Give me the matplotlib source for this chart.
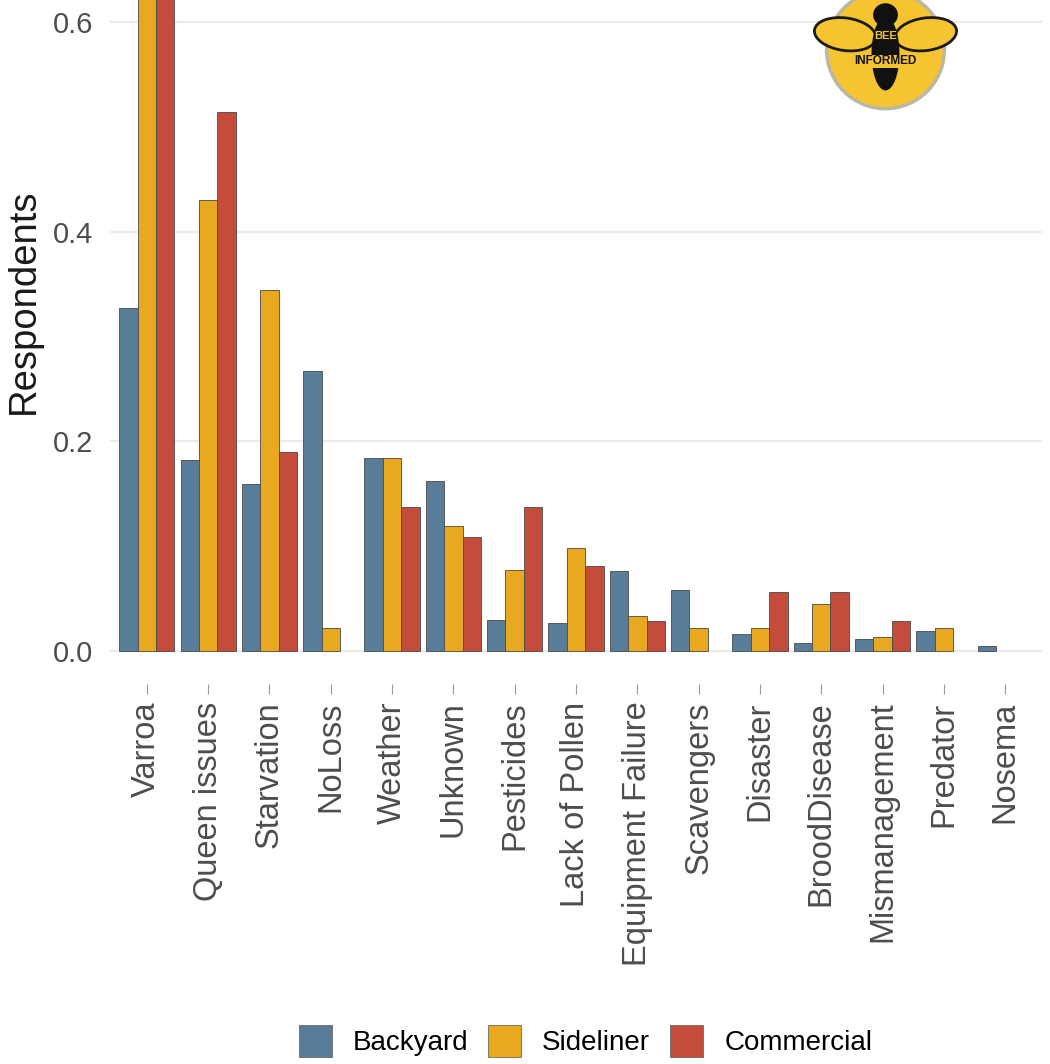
import matplotlib
matplotlib.use("Agg")
import matplotlib.pyplot as plt
import numpy as np
from matplotlib.patches import Patch, Circle, Ellipse

plt.rcParams['font.family'] = ['Liberation Sans', 'DejaVu Sans']

categories = ["Varroa", "Queen issues", "Starvation", "NoLoss", "Weather", "Unknown",
              "Pesticides", "Lack of Pollen", "Equipment Failure", "Scavengers",
              "Disaster", "BroodDisease", "Mismanagement", "Predator", "Nosema"]
series = ["Backyard", "Sideliner", "Commercial"]
backyard   = [0.327, 0.182, 0.159, 0.267, 0.184, 0.162, 0.030, 0.027, 0.076, 0.058, 0.016, 0.008, 0.011, 0.019, 0.005]
sideliner  = [0.700, 0.430, 0.344, 0.022, 0.184, 0.119, 0.077, 0.098, 0.033, 0.022, 0.022, 0.045, 0.013, 0.022, 0.0]
commercial = [0.720, 0.514, 0.190, 0.0, 0.137, 0.109, 0.137, 0.081, 0.029, 0.0, 0.056, 0.056, 0.029, 0.0, 0.0]
yticks = [0.0, 0.2, 0.4, 0.6]
ytick_labels = ["0.0", "0.2", "0.4", "0.6"]
colors = ["#587D98", "#E8A820", "#C34C3B"]

W, H = 1050, 1064
fig = plt.figure(figsize=(W/100, H/100), dpi=100)
ax = fig.add_axes([110/W, 1-683.5/H, (1042-110)/W, 683.5/H])

x = np.arange(len(categories))
bw = 0.3
vals = [backyard, sideliner, commercial]
for i, (v, c) in enumerate(zip(vals, colors)):
    arr = np.array(v)
    mask = arr > 0
    ax.bar(x[mask] + (i-1)*bw, arr[mask], width=bw, color=c, edgecolor="#4a4a4a",
           linewidth=0.6, zorder=3)

ax.set_xlim(-0.6, len(categories)-1+0.6)
ax.set_ylim(-0.031, 0.621)
for s in ax.spines.values():
    s.set_visible(False)
for yv in yticks:
    ax.axhline(yv, color="#EBEBEB", linewidth=1.6, zorder=1)
ax.set_yticks(yticks)
ax.set_yticklabels(ytick_labels)
ax.set_xticks(x)
ax.set_xticklabels(categories, rotation=90, va="top", ha="center")
ax.tick_params(axis="y", length=0, pad=12, labelsize=21, labelcolor="#4D4D4D")
ax.tick_params(axis="x", length=7, width=0.8, color="#9a9a9a", pad=6, labelsize=23.5,
               labelcolor="#4D4D4D", direction="out")

fig.text(24/W, 1-301/H, "Respondents", rotation=90, ha="center", va="center",
         fontsize=27.5, color="#1a1a1a")

handles = [Patch(facecolor=c, edgecolor="#6a6a6a", linewidth=0.6) for c in colors]
fig.legend(handles, series, loc="center", bbox_to_anchor=(585.5/W, 1-1041/H), ncol=3,
           frameon=False, fontsize=20, handlelength=1.19, handleheight=1.37,
           handletextpad=0.75, columnspacing=0.72)

# logo
lax = fig.add_axes([808/W, 1-135/H, 155/W, 155/H])
lax.set_xlim(-1, 1); lax.set_ylim(-1, 1); lax.set_aspect("equal"); lax.axis("off")
lax.add_patch(Circle((0, 0.1), 0.76, facecolor="#F6C430", edgecolor="#BDB6A0", linewidth=2.5))
lax.add_patch(Ellipse((-0.52, 0.3), 0.8, 0.42, angle=-8, facecolor="#F6C430", edgecolor="#1a1a1a", linewidth=2))
lax.add_patch(Ellipse((0.52, 0.3), 0.8, 0.42, angle=8, facecolor="#F6C430", edgecolor="#1a1a1a", linewidth=2))
lax.add_patch(Ellipse((0, 0.55), 0.32, 0.3, facecolor="#111111"))
lax.add_patch(Ellipse((0, 0.05), 0.36, 0.95, facecolor="#111111"))
lax.text(0, 0.28, "BEE", ha="center", va="center", fontsize=8, color="#F6C430", fontweight="bold")
lax.text(0, -0.05, "INFORMED", ha="center", va="center", fontsize=8.5, color="#111111",
         fontweight="bold", bbox=dict(facecolor="#F6C430", edgecolor="none", pad=0.5))

fig.savefig("out.png", dpi=100)
